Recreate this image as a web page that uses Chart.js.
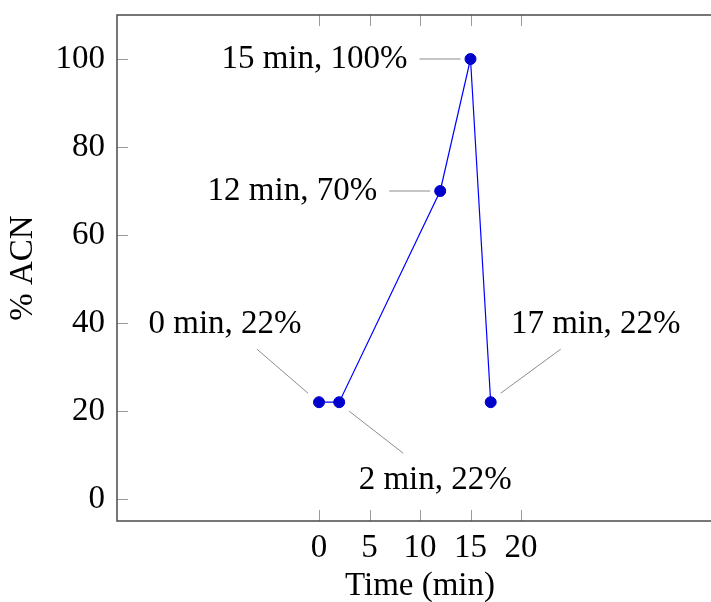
<!DOCTYPE html>
<html>
<head>
<meta charset="utf-8">
<script src="https://cdn.jsdelivr.net/npm/chart.js@4"></script>
<style>
  html, body { margin: 0; padding: 0; background: #fff; }
  #wrap { width: 711px; height: 602px; overflow: hidden; }
</style>
</head>
<body>
<div id="wrap"><canvas id="gradientChart" width="730" height="602"></canvas></div>
<script>
// gradient program
const timeMin = [0, 2, 12, 15, 17];
const acnPct = [22, 22, 70, 100, 22];
const xTickValues = [0, 5, 10, 15, 20];
const yTickValues = [0, 20, 40, 60, 80, 100];
const pointLabels = timeMin.map((t, i) => `${t} min, ${acnPct[i]}%`);

const FONT_FAMILY = '"Liberation Serif", "DejaVu Serif", serif';
const FONT_SIZE = 33;

// pin placement relative to each point (pixels): leader line start/end, text anchor
const pinLayout = [
  { from: [-11, -9], to: [-62, -53], text: [-94, -78], align: 'center' },
  { from: [10, 9], to: [64, 51], text: [96, 78], align: 'center' },
  { from: [-10, 0], to: [-51, 0], text: [-63, 0], align: 'right' },
  { from: [-10, 0], to: [-51, 0], text: [-63, 0], align: 'right' },
  { from: [10, -9], to: [70, -53], text: [105, -78], align: 'center' },
];

const frameAndPins = {
  id: 'frameAndPins',
  afterDatasetsDraw(chart) {
    const { ctx, chartArea: area } = chart;
    const xs = chart.scales.x, ys = chart.scales.y;
    ctx.save();

    // inward ticks
    ctx.strokeStyle = '#9a9a9a';
    ctx.lineWidth = 1;
    ctx.beginPath();
    xTickValues.forEach(v => {
      const px = Math.round(xs.getPixelForValue(v)) + 0.5;
      ctx.moveTo(px, area.bottom); ctx.lineTo(px, area.bottom - 11);
      ctx.moveTo(px, area.top); ctx.lineTo(px, area.top + 11);
    });
    yTickValues.forEach(v => {
      const py = Math.round(ys.getPixelForValue(v)) + 0.5;
      ctx.moveTo(area.left, py); ctx.lineTo(area.left + 11, py);
      ctx.moveTo(area.right, py); ctx.lineTo(area.right - 11, py);
    });
    ctx.stroke();

    // axis box
    ctx.strokeStyle = '#4a4a4a';
    ctx.lineWidth = 1.5;
    ctx.strokeRect(area.left, area.top, area.right - area.left, area.bottom - area.top);

    // pins
    timeMin.forEach((t, i) => {
      const px = xs.getPixelForValue(t);
      const py = ys.getPixelForValue(acnPct[i]);
      const p = pinLayout[i];
      ctx.strokeStyle = '#8c8c8c';
      ctx.lineWidth = 1;
      ctx.beginPath();
      ctx.moveTo(px + p.from[0], py + p.from[1]);
      ctx.lineTo(px + p.to[0], py + p.to[1]);
      ctx.stroke();
      ctx.fillStyle = '#000';
      ctx.font = `${FONT_SIZE}px ${FONT_FAMILY}`;
      ctx.textAlign = p.align;
      ctx.textBaseline = 'middle';
      ctx.fillText(pointLabels[i], px + p.text[0], py + p.text[1]);
    });
    ctx.restore();
  }
};

new Chart(document.getElementById('gradientChart'), {
  type: 'line',
  data: {
    datasets: [{
      data: timeMin.map((t, i) => ({ x: t, y: acnPct[i] })),
      borderColor: '#0000ff',
      borderWidth: 1.2,
      tension: 0,
      pointRadius: 5.5,
      pointBackgroundColor: '#0000cc',
      pointBorderColor: '#0000cc',
      pointBorderWidth: 1,
      clip: false,
    }]
  },
  options: {
    responsive: false,
    animation: false,
    layout: { padding: { top: 0, right: 7, bottom: 0, left: 0 } },
    plugins: { legend: { display: false }, tooltip: { enabled: false } },
    scales: {
      x: {
        type: 'linear',
        min: -20,
        max: 40,
        afterBuildTicks: scale => { scale.ticks = xTickValues.map(v => ({ value: v })); },
        afterFit: scale => { scale.height = 81; scale.paddingLeft = 0; scale.paddingRight = 0; },
        grid: { display: false, drawTicks: false },
        border: { display: false },
        ticks: {
          padding: 8,
          color: '#000',
          maxRotation: 0,
          autoSkip: false,
          font: { family: FONT_FAMILY, size: FONT_SIZE },
        },
        title: {
          display: true,
          text: 'Time (min)',
          color: '#000',
          padding: { top: 0, bottom: -4 },
          font: { family: FONT_FAMILY, size: FONT_SIZE },
        }
      },
      y: {
        min: -5,
        max: 110,
        afterBuildTicks: scale => { scale.ticks = yTickValues.map(v => ({ value: v })); },
        afterFit: scale => { scale.width = 117; scale.paddingTop = 15; scale.paddingBottom = 0; },
        grid: { display: false, drawTicks: false },
        border: { display: false },
        ticks: {
          padding: 12,
          color: '#000',
          autoSkip: false,
          font: { family: FONT_FAMILY, size: FONT_SIZE },
        },
        title: {
          display: true,
          text: '% ACN',
          color: '#000',
          padding: { top: 4, bottom: 0 },
          font: { family: FONT_FAMILY, size: FONT_SIZE },
        }
      }
    }
  },
  plugins: [frameAndPins]
});
</script>
</body>
</html>
